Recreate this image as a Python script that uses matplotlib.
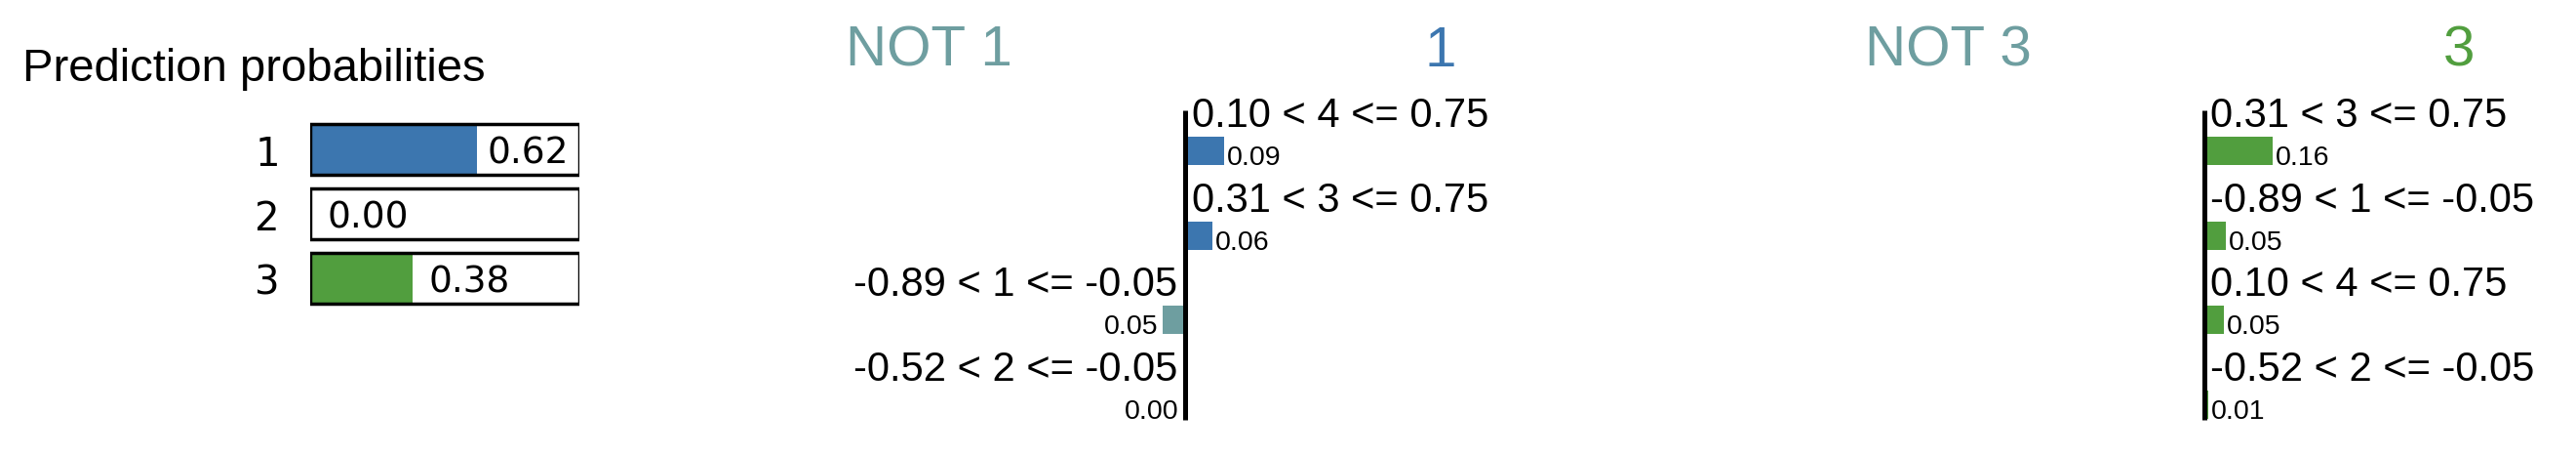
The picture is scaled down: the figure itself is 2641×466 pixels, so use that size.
import numpy as np
import matplotlib
matplotlib.use('Agg')
import matplotlib.pyplot as plt

# prediction probabilities
classes = ['1', '2', '3']
probs = [0.62, 0.00, 0.38]
prob_colors = ['#3C76AF', '#FFFFFF', '#519E3E']

# explanation for class 1
feat1 = ['0.10 < 4 <= 0.75', '0.31 < 3 <= 0.75', '-0.89 < 1 <= -0.05', '-0.52 < 2 <= -0.05']
vals1 = [0.092, 0.064, -0.051, -0.002]

# explanation for class 3
feat3 = ['0.31 < 3 <= 0.75', '-0.89 < 1 <= -0.05', '0.10 < 4 <= 0.75', '-0.52 < 2 <= -0.05']
vals3 = [0.160, 0.051, 0.047, 0.010]

NOT_COLOR = '#6E9EA0'
W, H = 2641, 466
fig = plt.figure(figsize=(W/100, H/100), dpi=100)
plt.rcParams['font.family'] = ['Liberation Sans', 'DejaVu Sans']

fig.text(23/W, 1-83/H, 'Prediction probabilities', fontsize=34, ha='left', va='baseline')

# probability bars
ax = fig.add_axes([318/W, 0, (594-318)/W, 1])
ax.set_xlim(0, 1)
ax.set_ylim((H-153)/66, -153/66)
ax.axis('off')
rows = np.arange(len(classes))
ax.barh(rows, probs, height=0.79, color=prob_colors, linewidth=0)
ax.barh(rows, [1]*len(classes), height=0.79, fill=False, edgecolor='black', linewidth=2.5)
for i in range(len(classes)):
    ax.annotate(classes[i], xy=(0, i), xytext=(-31, -17), textcoords='offset pixels',
                ha='right', va='baseline', fontsize=29, family='DejaVu Sans')
    if probs[i] > 0.5:
        ax.annotate('%.2f' % probs[i], xy=(1, i), xytext=(-11, -15), textcoords='offset pixels',
                    ha='right', va='baseline', fontsize=27, family='DejaVu Sans')
    else:
        ax.annotate('%.2f' % probs[i], xy=(probs[i], i), xytext=(17, -15), textcoords='offset pixels',
                    ha='left', va='baseline', fontsize=27, family='DejaVu Sans')


def explain(center, feats, vals, cls, color):
    half = 380
    ax = fig.add_axes([(center-half)/W, 0, 2*half/W, 1])
    ax.set_xlim(-half/440, half/440)
    ax.set_ylim((H-154.5)/86.67, -154.5/86.67)
    ax.axis('off')
    n = len(feats)
    y = np.arange(n)
    cols = [color if v > 0 else NOT_COLOR for v in vals]
    ax.barh(y, vals, height=0.334, color=cols, linewidth=0)
    ax.vlines(0, -0.48, n-1+0.18, color='black', linewidth=3.6)
    for i in range(n):
        if vals[i] > 0:
            ax.annotate(feats[i], xy=(0, i), xytext=(7, 24.5), textcoords='offset pixels',
                        ha='left', va='baseline', fontsize=30)
            ax.annotate('%.2f' % abs(vals[i]), xy=(vals[i], i), xytext=(3, -14.5),
                        textcoords='offset pixels', ha='left', va='baseline', fontsize=20.5)
        else:
            ax.annotate(feats[i], xy=(0, i), xytext=(-7, 24.5), textcoords='offset pixels',
                        ha='right', va='baseline', fontsize=30)
            ax.annotate('%.2f' % abs(vals[i]), xy=(vals[i], i), xytext=(-5, -14.5),
                        textcoords='offset pixels', ha='right', va='baseline', fontsize=20.5)
    ax.text(-0.595, -1.0, 'NOT ' + cls, color=NOT_COLOR, fontsize=42, ha='center', va='baseline')
    ax.text(0.595, -1.0, cls, color=color, fontsize=42, ha='center', va='baseline')


explain(1214.5, feat1, vals1, '1', '#3C76AF')
explain(2259.5, feat3, vals3, '3', '#519E3E')

fig.savefig('out.png', dpi=100)
